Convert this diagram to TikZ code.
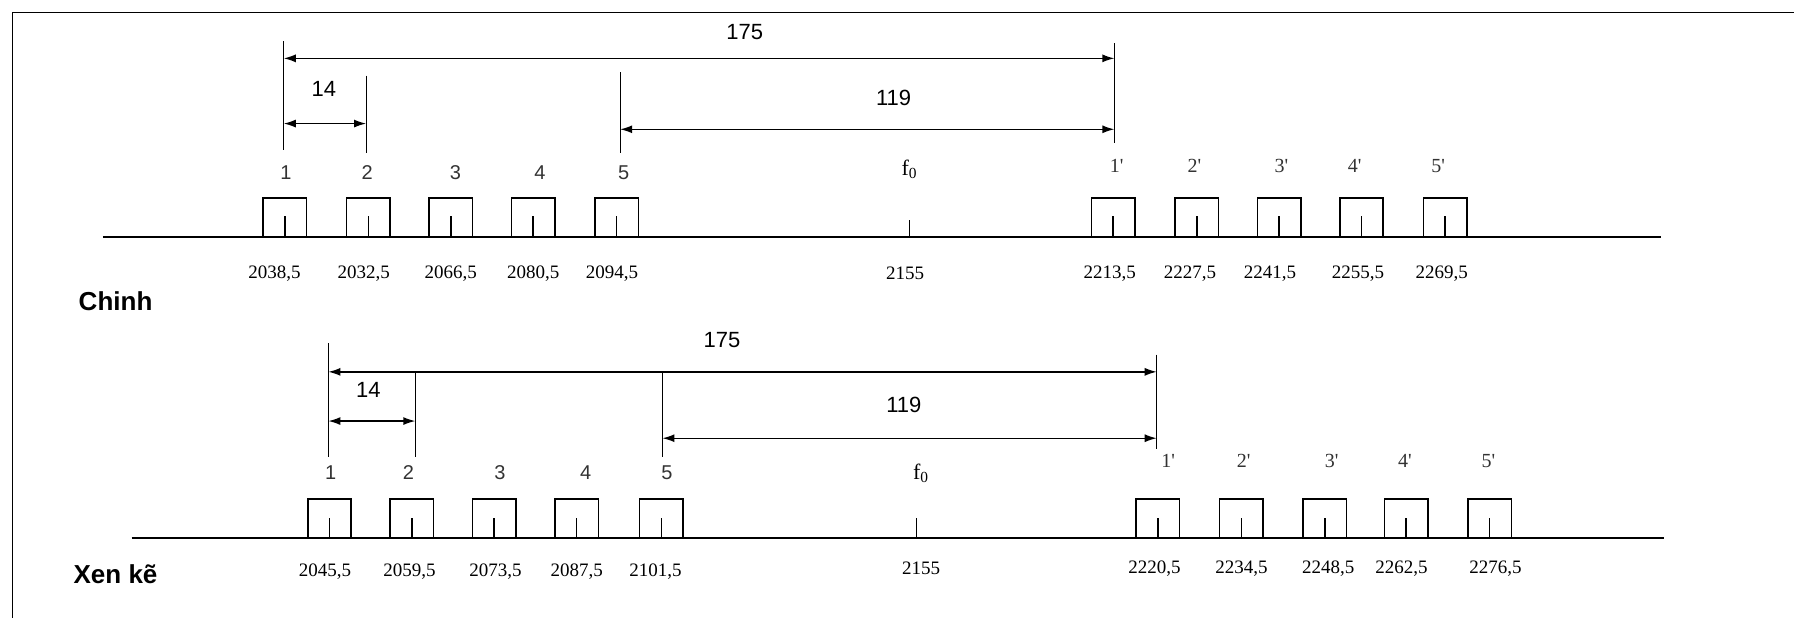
\documentclass[tikz,border=0pt]{standalone}
\usepackage{fontspec}
\setmainfont{Liberation Sans}
\newfontfamily\tnr{Liberation Serif}
\usetikzlibrary{arrows.meta,positioning}

\tikzset{
    axisline/.style={line width=1.1pt},
    chanbox/.style={line width=0.8pt},
    extline/.style={line width=0.6pt},
    dimarrow/.style={line width=0.7pt, {Latex[length=6pt,width=4pt]}-{Latex[length=6pt,width=4pt]}},
    numlabel/.style={font=\fontsize{10}{12}\selectfont, text=black!80, inner sep=0pt},
    dimlabel/.style={font=\fontsize{11}{13}\selectfont, inner sep=0pt},
    freqlabel/.style={font=\tnr\fontsize{9.5}{11}\selectfont, inner sep=0pt},
    primelabel/.style={font=\tnr\fontsize{10}{12}\selectfont, text=black!80, inner sep=0pt},
    rowname/.style={font=\fontsize{13}{15}\selectfont\bfseries, inner sep=0pt}
}

\begin{document}
\begin{tikzpicture}[x=0.572pt, y=-0.572pt]
    \useasboundingbox (0,0) rectangle (1568,540);

    % Khung
    \draw[line width=0.9pt] (11,540) -- (11,11) -- (1568,11);

    % ===== Hang 1 : Chinh =====
    \coordinate (ax1l) at (90,207);
    \coordinate (ax1r) at (1452,207);
    \draw[axisline] (ax1l) -- (ax1r);

    % Kenh 1..5
    \foreach \bx/\lx/\fx/\n/\f in {249/250/240/1/{2038,5}, 322/321/318/2/{2032,5}, 394/398/394/3/{2066,5}, 466/472/466/4/{2080,5}, 539/545/535/5/{2094,5}} {
        \draw[chanbox] (\bx-19,207) |- (\bx+19,173) -- (\bx+19,207);
        \draw[chanbox] (\bx,207) -- (\bx,189);
        \node[numlabel] (ca\n) at (\lx,151) {\n};
        \node[freqlabel] (fa\n) at (\fx,239) {\f};
    }
    % Kenh 1'..5'
    \foreach \bx/\lx/\fx/\n/\f in {973/976/970/1/{2213,5}, 1046/1044/1040/2/{2227,5}, 1118/1120/1110/3/{2241,5}, 1190/1184/1187/4/{2255,5}, 1263/1257/1260/5/{2269,5}} {
        \draw[chanbox] (\bx-19,207) |- (\bx+19,173) -- (\bx+19,207);
        \draw[chanbox] (\bx,207) -- (\bx,189);
        \node[primelabel] (cpa\n) at (\lx,145) {\n'};
        \node[freqlabel] (fpa\n) at (\fx,239) {\f};
    }
    % Tan so trung tam
    \draw[chanbox] (795,207) -- (795,192);
    \node[primelabel, text=black, font=\tnr\fontsize{11}{13}\selectfont] (f0a) at (795,148) {f\textsubscript{0}};
    \node[freqlabel] (fca) at (791,239) {2155};

    % Duong gioi han
    \coordinate (ea1t) at (248,36);  \coordinate (ea1b) at (248,131);
    \coordinate (ea2t) at (320,66);  \coordinate (ea2b) at (320,134);
    \coordinate (ea5t) at (542,63);  \coordinate (ea5b) at (542,134);
    \coordinate (eapt) at (974,38);  \coordinate (eapb) at (974,125);
    \draw[extline] (ea1t) -- (ea1b);
    \draw[extline] (ea2t) -- (ea2b);
    \draw[extline] (ea5t) -- (ea5b);
    \draw[extline] (eapt) -- (eapb);

    % Mui ten kich thuoc
    \coordinate (da175l) at (248,51);  \coordinate (da175r) at (974,51);
    \coordinate (da14l) at (248,108);  \coordinate (da14r) at (320,108);
    \coordinate (da119l) at (542,113); \coordinate (da119r) at (974,113);
    \draw[dimarrow] (da175l) -- (da175r);
    \draw[dimarrow] (da14l) -- (da14r);
    \draw[dimarrow] (da119l) -- (da119r);
    \node[dimlabel] (la175) at (651,28) {175};
    \node[dimlabel] (la14) at (283,78) {14};
    \node[dimlabel] (la119) at (781,86) {119};

    \node[rowname] (chinh) at (101,263) {Chinh};

    % ===== Hang 2 : Xen ke =====
    \coordinate (ax2l) at (115,470);
    \coordinate (ax2r) at (1454,470);
    \draw[axisline] (ax2l) -- (ax2r);

    \foreach \bx/\lx/\fx/\n/\f in {288/289/284/1/{2045,5}, 360/357/358/2/{2059,5}, 432/437/433/3/{2073,5}, 504/512/504/4/{2087,5}, 578/583/573/5/{2101,5}} {
        \draw[chanbox] (\bx-19,470) |- (\bx+19,436) -- (\bx+19,470);
        \draw[chanbox] (\bx,470) -- (\bx,453);
        \node[numlabel] (cb\n) at (\lx,413) {\n};
        \node[freqlabel] (fb\n) at (\fx,500) {\f};
    }
    \foreach \bx/\lx/\fx/\n/\f in {1012/1021/1009/1/{2220,5}, 1085/1087/1085/2/{2234,5}, 1158/1164/1161/3/{2248,5}, 1229/1228/1225/4/{2262,5}, 1302/1301/1307/5/{2276,5}} {
        \draw[chanbox] (\bx-19,470) |- (\bx+19,436) -- (\bx+19,470);
        \draw[chanbox] (\bx,470) -- (\bx,453);
        \node[primelabel] (cpb\n) at (\lx,403) {\n'};
        \node[freqlabel] (fpb\n) at (\fx,497) {\f};
    }
    \draw[chanbox] (801,470) -- (801,453);
    \node[primelabel, text=black, font=\tnr\fontsize{11}{13}\selectfont] (f0b) at (805,414) {f\textsubscript{0}};
    \node[freqlabel] (fcb) at (805,497) {2155};

    \coordinate (eb1t) at (287,300);  \coordinate (eb1b) at (287,399);
    \coordinate (eb2t) at (363,326);  \coordinate (eb2b) at (363,399);
    \coordinate (eb5t) at (579,326);  \coordinate (eb5b) at (579,399);
    \coordinate (ebpt) at (1011,310); \coordinate (ebpb) at (1011,392);
    \draw[extline] (eb1t) -- (eb1b);
    \draw[extline] (eb2t) -- (eb2b);
    \draw[extline] (eb5t) -- (eb5b);
    \draw[extline] (ebpt) -- (ebpb);

    \coordinate (db175l) at (287,325);  \coordinate (db175r) at (1011,325);
    \coordinate (db14l) at (287,368);   \coordinate (db14r) at (363,368);
    \coordinate (db119l) at (579,383);  \coordinate (db119r) at (1011,383);
    \draw[dimarrow] (db175l) -- (db175r);
    \draw[dimarrow] (db14l) -- (db14r);
    \draw[dimarrow] (db119l) -- (db119r);
    \node[dimlabel] (lb175) at (631,297) {175};
    \node[dimlabel] (lb14) at (322,341) {14};
    \node[dimlabel] (lb119) at (790,354) {119};

    \node[rowname] (xenke) at (101,502) {Xen kẽ};
\end{tikzpicture}
\end{document}
